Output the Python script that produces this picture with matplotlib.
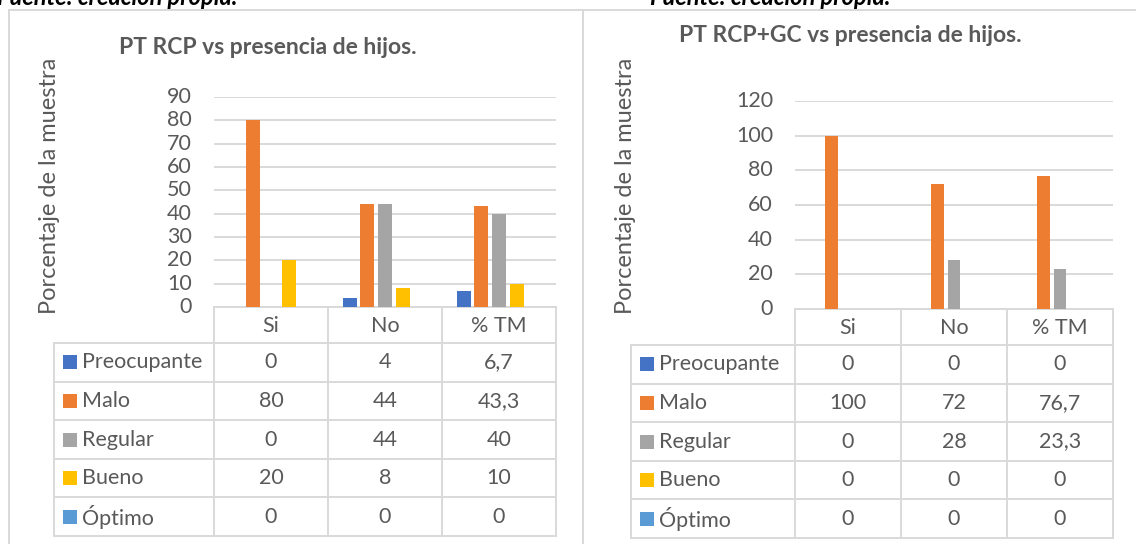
import numpy as np
import matplotlib.pyplot as plt

# data
categorias = ["Si", "No", "% TM"]
series = ["Preocupante", "Malo", "Regular", "Bueno", "Óptimo"]
colores = ["#4472C4", "#ED7D31", "#A5A5A5", "#FFC000", "#5B9BD5"]

rcp = [
    [0, 4, 6.7],
    [80, 44, 43.3],
    [0, 44, 40],
    [20, 8, 10],
    [0, 0, 0],
]
rcp_gc = [
    [0, 0, 0],
    [100, 72, 76.7],
    [0, 28, 23.3],
    [0, 0, 0],
    [0, 0, 0],
]

W, H = 1136, 544
TXT = "#595959"
GRID = "#D9D9D9"
FONT = "Lato"
FS = 15.5


def fmt(v):
    return f"{v:g}".replace(".", ",")


def px_axes(fig, x0, y0, x1, y1):
    return fig.add_axes([x0 / W, 1 - y1 / H, (x1 - x0) / W, (y1 - y0) / H])


def panel(fig, ov, datos, titulo, tit_x, tit_y, cols, lab_x, y_top, y_hdr, y_bot,
          ymax, ystep, ylab_x, ytick_x):
    ax = px_axes(fig, cols[0], y_top, cols[-1], y_hdr)
    step = 0.155
    x = np.arange(len(categorias))
    for i, (nombre, vals) in enumerate(zip(series, datos)):
        ax.bar(x + (i - 2) * step, vals, width=0.12, color=colores[i], zorder=3)
    ax.set_xlim(-0.5, len(categorias) - 0.5)
    ax.set_ylim(0, ymax)
    ticks = np.arange(0, ymax + 1, ystep)
    ax.set_yticks(ticks)
    ax.set_yticklabels([])
    ax.set_xticks([])
    ax.tick_params(left=False, bottom=False)
    for s in ax.spines.values():
        s.set_visible(False)
    ax.grid(axis="y", color=GRID, lw=1.4, zorder=0)
    ax.patch.set_alpha(0)
    # tick labels in pixel space
    for t in ticks:
        yy = y_hdr - (y_hdr - y_top) * t / ymax
        ov.text(ytick_x, yy, f"{t:g}", ha="right", va="center", fontsize=FS,
                color=TXT, family=FONT)

    ov.text(tit_x, tit_y, titulo, ha="center", va="center", fontsize=16.5,
            fontweight="bold", color=TXT, family=FONT)
    ov.text(ylab_x, 186, "Porcentaje de la muestra", rotation=90,
            ha="center", va="center", fontsize=17, color=TXT, family=FONT)

    # table
    n = len(series)
    lw = 1.4
    hdr_bot = y_hdr + 36
    rh = (y_bot - hdr_bot) / n
    ov.plot([cols[0], cols[-1]], [y_hdr, y_hdr], color=GRID, lw=lw)
    for c in cols:
        ov.plot([c, c], [y_hdr, y_bot], color=GRID, lw=lw)
    ov.plot([lab_x, lab_x], [hdr_bot, y_bot], color=GRID, lw=lw)
    for r in range(n + 1):
        yy = hdr_bot + r * rh
        ov.plot([lab_x, cols[-1]], [yy, yy], color=GRID, lw=lw)
    for j, cat in enumerate(categorias):
        ov.text((cols[j] + cols[j + 1]) / 2, y_hdr + 19, cat, ha="center", va="center",
                fontsize=FS, color=TXT, family=FONT)
    for r, (nombre, vals) in enumerate(zip(series, datos)):
        yc = hdr_bot + (r + 0.5) * rh
        ov.add_patch(plt.Rectangle((lab_x + 9, yc - 7), 14, 14, color=colores[r], lw=0))
        ov.text(lab_x + 28, yc, nombre, ha="left", va="center", fontsize=FS,
                color=TXT, family=FONT)
        for j, v in enumerate(vals):
            ov.text((cols[j] + cols[j + 1]) / 2, yc, fmt(v), ha="center", va="center",
                    fontsize=FS, color=TXT, family=FONT)


def main():
    fig = plt.figure(figsize=(W / 100, H / 100), dpi=100)
    fig.patch.set_facecolor("white")
    ov = fig.add_axes([0, 0, 1, 1])
    ov.set_xlim(0, W)
    ov.set_ylim(H, 0)
    ov.axis("off")

    # frames
    ov.plot([9, W], [9.5, 9.5], color=GRID, lw=1.4)
    ov.plot([9, 9], [9.5, H], color=GRID, lw=1.4)
    ov.plot([583, 583], [9.5, H], color=GRID, lw=1.4)

    # source lines, cut at the top edge as in the original capture
    for xf in (-3, 650):
        ov.text(xf, 5, "Fuente: creación propia.", ha="left", va="baseline",
                fontsize=17, fontweight="bold", style="italic", color="black", family=FONT)

    panel(fig, ov, rcp, "PT RCP vs presencia de hijos.", 268, 47,
          [214, 328, 442, 556], 54, 97, 307, 536, 90, 10, 50, 192)
    panel(fig, ov, rcp_gc, "PT RCP+GC vs presencia de hijos.", 850, 36,
          [795, 901, 1007, 1113], 631, 101, 309, 538, 120, 20, 625, 773)

    fig.savefig("out.png", dpi=100)


if __name__ == "__main__":
    main()
